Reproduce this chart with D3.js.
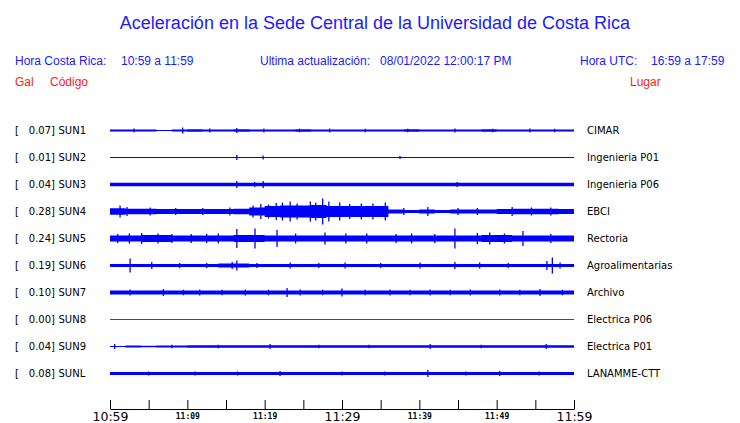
<!DOCTYPE html>
<html><head><meta charset="utf-8">
<script src="https://cdn.jsdelivr.net/npm/d3@7/dist/d3.min.js"></script>
<style>body{margin:0;background:#fff}</style>
</head><body>
<script>
// ---------------- DATA ----------------
const title = "Aceleración en la Sede Central de la Universidad de Costa Rica";
const horaCR = "10:59 a 11:59";
const actualizacion = "08/01/2022 12:00:17 PM";
const horaUTC = "16:59 a 17:59";
const codes = ["SUN1","SUN2","SUN3","SUN4","SUN5","SUN6","SUN7","SUN8","SUN9","SUNL"];
const gal = ["0.07","0.01","0.04","0.28","0.24","0.19","0.10","0.00","0.04","0.08"];
const places = ["CIMAR","Ingenieria P01","Ingenieria P06","EBCI","Rectoria","Agroalimentarias","Archivo","Electrica P06","Electrica P01","LANAMME-CTT"];
const traceColors = ["#0000ff","#0000ff","#0000ff","#0000ff","#0000ff","#0000ff","#0000ff","#ff0000","#0000ff","#0000ff"];
// minutes after 10:59
const tickMinutes = [0,5,10,15,20,25,30,35,40,45,50,55,60];
const tickLabels = ["10:59","","11:09","","11:19","","11:29","","11:39","","11:49","","11:59"];
const bigTicks = ["10:59","11:29","11:59"];
// envelope half-amplitude, one value per 2 minutes (30 values)
const envSUN1 = [1.1,1.1,1.1,0.5,1.1,1.3,1.1,1.1,1.3,1.1,1.1,1.1,1.3,1.1,1.1,1.1,1.1,1.1,1.1,1.3,1.1,1.1,1.1,1.1,1.3,1.1,1.1,1.1,1.1,1.1];
const envSUN2 = [0.4,0.4,0.4,0.4,0.4,0.4,0.4,0.4,0.4,0.4,0.4,0.4,0.4,0.4,0.4,0.4,0.4,0.4,0.4,0.4,0.4,0.4,0.4,0.4,0.4,0.4,0.4,0.4,0.4,0.4];
const envSUN3 = [1.7,1.7,1.7,1.7,1.7,1.7,1.7,1.7,1.7,1.7,1.7,1.7,1.7,1.7,1.7,1.7,1.7,1.7,1.7,1.7,1.7,1.7,1.7,1.7,1.7,1.7,1.7,1.7,1.7,1.7];
const envSUN4 = [3.2,2.7,2.7,2.4,2.4,2.4,2.4,2.4,2.7,4,5.5,6,6,6.5,5.5,5.5,5.5,5.5,2,1.6,2,1.6,2,2,2,2.4,2.8,2.8,2.8,2.4];
const envSUN5 = [3,3,3.4,3.4,3,3,3,3,3.6,3.6,3,3,3,3,3,3,3,3,3,3,3,3,3,3,3.6,3.6,3,3,3,3];
const envSUN6 = [1.4,1.4,1.4,1.4,1.4,1.4,1.4,2,2,1.4,1.4,1.4,1.4,1.4,1.4,1.4,1.4,1.4,1.4,1.4,1.4,1.4,1.4,1.4,1.4,1.4,1.4,1.4,1.4,1.4];
const envSUN7 = [2,2,2,2,2,2,2,2,2,2,2,2,2,2,2,2,2,2,2,2,2,2,2,2,2,2,2,2,2,2];
const envSUN8 = [0,0,0,0,0,0,0,0,0,0,0,0,0,0,0,0,0,0,0,0,0,0,0,0,0,0,0,0,0,0];
const envSUN9 = [0.4,1.1,0.7,0.9,1.1,1.3,1.3,1.3,1.3,1.3,1.3,1.3,1.3,1.3,1.3,1.3,1.3,1.3,1.3,1.3,1.3,1.3,1.3,1.3,1.3,1.3,1.3,1.3,1.3,1.3];
const envSUNL = [1.5,1.5,1.5,1.5,1.5,1.5,1.5,1.5,1.5,1.5,1.5,1.5,1.5,1.5,1.5,1.5,1.5,1.5,1.5,1.5,1.5,1.5,1.5,1.5,1.5,1.5,1.5,1.5,1.5,1.5];
// spikes: [minute, half-amplitude]
const spkSUN1 = [[3.1,2],[9.4,3],[12.9,2],[16.4,2.5],[19.9,2],[24.5,1.8],[28.4,2],[33,1.8],[38.5,1.8],[44.6,2],[49.5,1.8],[54.3,2],[57.5,1.8]];
const spkSUN2 = [[16.4,2.5],[19.8,2],[37.5,1.5]];
const spkSUN3 = [[16.4,3.5],[18.7,2.5],[19.8,3.5],[44.9,2.5]];
const spkSUN4 = [[1.3,6],[2.2,4.5],[5.2,4],[8.5,3.5],[12,3.5],[15.5,4],[18.5,6],[19.5,7.5],[20.5,7],[21.5,8.5],[22.3,9],[23.3,10],[24.2,8],[25.9,10],[26.6,9],[27.5,13],[28.3,10],[29.7,9],[31,7.5],[32.5,8],[34,8],[35.6,9],[38,3.5],[41.1,4.5],[45,3.5],[47.5,3.5],[52,4.5],[54.5,4],[57,4]];
const spkSUN5 = [[1,4.5],[2.5,5],[4.1,5.5],[6.2,5],[8,4.5],[10.5,4.5],[12.5,4.5],[14,5],[16.4,9.5],[18.75,10],[21.6,8.5],[24,5],[27.8,6],[30.5,5],[33.2,5],[37,4.5],[39,5],[42,4.5],[44.6,10],[47.5,5.5],[49.1,6],[51,5],[53.4,7.5],[57,4.5]];
const spkSUN6 = [[2.6,7],[5.4,3.5],[9,2.5],[12.5,2.5],[15.8,3.5],[16.4,5],[19,2.5],[23.3,3],[27,2.5],[30.4,3],[35,2.5],[40.1,3],[44.6,3.5],[47.8,3],[51.5,2.5],[56.5,4.5],[57.2,8],[58.2,3]];
const spkSUN7 = [[2.6,3],[6.9,3.5],[9.5,2.8],[11.6,3],[14.5,2.8],[17.5,3],[20.5,2.8],[22.9,4.5],[24.6,3],[27.5,2.8],[30,4],[33,2.8],[36.2,3],[38.8,2.8],[41.4,3],[44,2.8],[46.6,3],[50.4,3],[53,2.8],[55.6,3.5],[58.5,2.8]];
const spkSUN8 = [];
const spkSUN9 = [[0.6,2.5],[8,1.8],[14,1.8],[20.7,2.5],[27,1.8],[33.5,1.8],[41.4,2.5],[48,1.8],[56.4,2.5]];
const spkSUNL = [[5,2],[11,2],[16.5,2],[21.99,2.5],[30,2],[35.5,2],[41.1,3.5],[46,2],[50.4,2.5],[55.5,2]];

const envelopes = [envSUN1,envSUN2,envSUN3,envSUN4,envSUN5,envSUN6,envSUN7,envSUN8,envSUN9,envSUNL];
const spikes = [spkSUN1,spkSUN2,spkSUN3,spkSUN4,spkSUN5,spkSUN6,spkSUN7,spkSUN8,spkSUN9,spkSUNL];

// ---------------- DRAW ----------------
const W = 740, H = 423;
const svg = d3.select("body").append("svg").attr("width", W).attr("height", H);
const blue = "#1a1aff", red = "#ff1a1a";

svg.append("text").attr("x", 375).attr("y", 29).attr("text-anchor","middle")
  .attr("font-family","Liberation Sans, Arial, sans-serif").attr("font-size",18).attr("fill",blue).text(title);

const hdr = svg.append("g").attr("font-family","Liberation Sans, Arial, sans-serif").attr("font-size",12);
hdr.append("text").attr("x",15).attr("y",65).attr("fill",blue).text("Hora Costa Rica:");
hdr.append("text").attr("x",121).attr("y",65).attr("fill",blue).text(horaCR);
hdr.append("text").attr("x",260).attr("y",65).attr("fill",blue).text("Ultima actualización:");
hdr.append("text").attr("x",380).attr("y",65).attr("fill",blue).text(actualizacion);
hdr.append("text").attr("x",580).attr("y",65).attr("fill",blue).text("Hora UTC:");
hdr.append("text").attr("x",651).attr("y",65).attr("fill",blue).text(horaUTC);
hdr.append("text").attr("x",15).attr("y",86).attr("fill",red).text("Gal");
hdr.append("text").attr("x",50).attr("y",86).attr("fill",red).text("Código");
hdr.append("text").attr("x",630).attr("y",86).attr("fill",red).text("Lugar");

const x = d3.scaleLinear().domain([0,60]).range([110,574]);
const yRow = d3.scalePoint().domain(codes).range([130,373]);
const amp = d3.scaleLinear().domain([-13.5,13.5]).range([13.5,-13.5]);

const lab = svg.append("g").attr("font-family","DejaVu Sans, sans-serif").attr("font-size",10).attr("fill","#000");
codes.forEach((c,i)=>{
  const yy = yRow(c)+3.5;
  lab.append("text").attr("x",15).attr("y",yy).text("[");
  lab.append("text").attr("x",55).attr("y",yy).attr("text-anchor","end").text(gal[i]+"]");
  lab.append("text").attr("x",58.5).attr("y",yy).text(c);
  lab.append("text").attr("x",587).attr("y",yy).text(places[i]);
});

const area = d3.area().curve(d3.curveStepAfter)
  .x(d=>x(d.m)).y0(d=>amp(-d.a)).y1(d=>amp(d.a));
codes.forEach((c,i)=>{
  const g = svg.append("g").attr("transform",`translate(0,${yRow(c)+0.5})`);
  const env = envelopes[i];
  const pts = env.map((a,k)=>({m:k*2,a}));
  pts.push({m:60,a:env[env.length-1]});
  g.append("path").datum(pts).attr("d",area).attr("fill",traceColors[i]);
  g.append("line").attr("x1",x(0)).attr("x2",x(60)).attr("y1",amp(0)).attr("y2",amp(0))
    .attr("stroke",traceColors[i]).attr("stroke-width",1).attr("shape-rendering","crispEdges");
  g.selectAll(".sp").data(spikes[i]).enter().append("line")
    .attr("x1",d=>x(d[0])).attr("x2",d=>x(d[0]))
    .attr("y1",d=>amp(-d[1])).attr("y2",d=>amp(d[1]))
    .attr("stroke",traceColors[i]).attr("stroke-width",1.3);
});

const axis = d3.axisBottom(x).tickValues(tickMinutes)
  .tickFormat((d,i)=>tickLabels[i]).tickSizeInner(-9).tickSizeOuter(0);
const ax = svg.append("g").attr("transform","translate(0,409)").call(axis);
ax.select(".domain").attr("stroke","#000");
ax.selectAll(".tick line").attr("stroke","#000");
ax.selectAll(".tick text").attr("dy",null).attr("fill","#000")
  .each(function(d,i){
    const t = d3.select(this);
    if (bigTicks.includes(tickLabels[i])) {
      t.attr("y",12).attr("font-family","DejaVu Sans, sans-serif").attr("font-size",12.5);
    } else {
      t.attr("y",10).attr("font-family","DejaVu Sans Mono, monospace").attr("font-size",8).attr("font-weight","bold");
    }
  });
</script>
</body></html>
